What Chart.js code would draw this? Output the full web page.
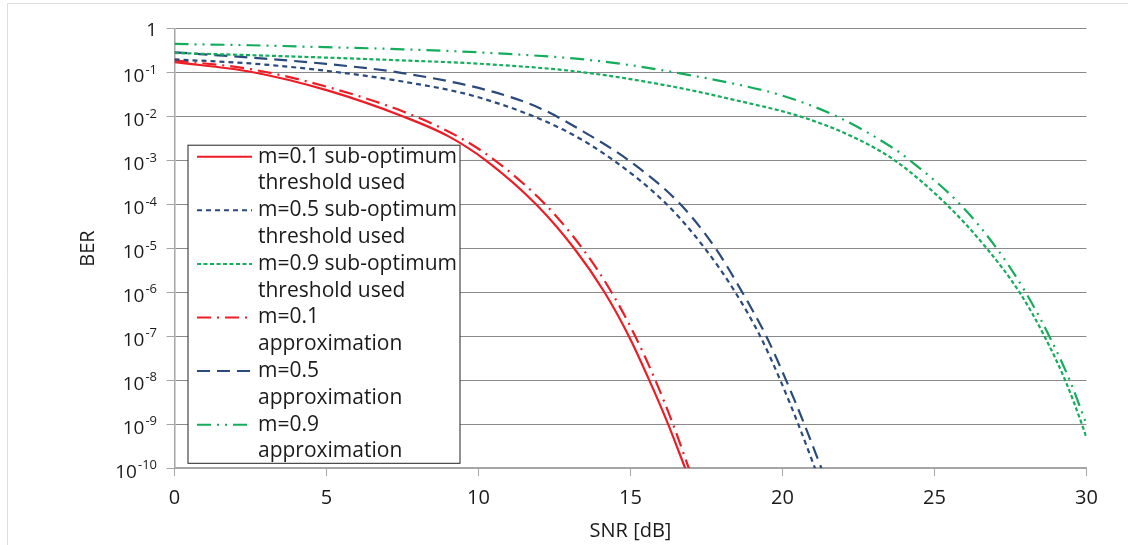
<!DOCTYPE html>
<html>
<head>
<meta charset="utf-8">
<title>BER vs SNR</title>
<script src="https://cdn.jsdelivr.net/npm/chart.js@4.4.1/dist/chart.umd.min.js"></script>
<style>
  html, body { margin: 0; padding: 0; background: #fff; }
  #wrap { position: relative; width: 1128px; height: 545px; }
</style>
</head>
<body>
<div id="wrap"><canvas id="berChart"></canvas></div>
<script>
// m=0.1 / 0.5 / 0.9, sub-optimum threshold used
var snrSub01 = [0, 2.5, 5, 7.5, 9, 10.25, 11.9, 13.15, 14.15, 14.95, 15.62, 16.24, 16.8];
var berSub01 = [0.174, 0.105, 0.04, 0.0102, 3.6e-3, 1e-3, 1e-4, 1e-5, 1e-6, 1e-7, 1e-8, 1e-9, 1e-10];

var snrSub05 = [0, 2.5, 5, 7.5, 10, 12.8, 14.45, 16.2, 17.45, 18.45, 19.27, 19.93, 20.52, 21.07];
var berSub05 = [0.20, 0.162, 0.11, 0.063, 0.0275, 5.0e-3, 1e-3, 1e-4, 1e-5, 1e-6, 1e-7, 1e-8, 1e-9, 1e-10];

var snrSub09 = [0, 2.5, 5, 7.5, 10, 13.3, 16.4, 18.3, 20.6, 22.3, 23.7, 25.4, 26.72, 27.8, 28.62, 29.3, 29.85, 30];
var berSub09 = [0.28, 0.25, 0.22, 0.19, 0.16, 0.105, 0.048, 0.025, 1e-2, 3.5e-3, 1e-3, 1e-4, 1e-5, 1e-6, 1e-7, 1e-8, 1e-9, 5e-10];

// m=0.1 / 0.5 / 0.9, approximation
var snrApp01 = [0, 2.5, 5, 7.5, 9.3, 10.55, 12.2, 13.42, 14.38, 15.16, 15.82, 16.4, 16.92];
var berApp01 = [0.19, 0.12, 0.048, 0.0132, 3.6e-3, 1e-3, 1e-4, 1e-5, 1e-6, 1e-7, 1e-8, 1e-9, 1e-10];

var snrApp05 = [0, 2.5, 5, 7.5, 10.4, 12, 13.35, 14.95, 16.65, 17.8, 18.68, 19.47, 20.12, 20.72, 21.28];
var berApp05 = [0.29, 0.22, 0.158, 0.098, 0.038, 0.0158, 5.0e-3, 1e-3, 1e-4, 1e-5, 1e-6, 1e-7, 1e-8, 1e-9, 1e-10];

var snrApp09 = [0, 2.5, 5, 7.5, 10, 13.3, 15, 16.5, 18.3, 20, 21.8, 23.7, 24.2, 25.85, 27.05, 28.0, 28.78, 29.45, 30];
var berApp09 = [0.45, 0.42, 0.38, 0.34, 0.29, 0.205, 0.148, 0.10, 0.058, 0.03, 1e-2, 1.8e-3, 1e-3, 1e-4, 1e-5, 1e-6, 1e-7, 1e-8, 1e-9];

var legendLines = [
  ['m=0.1 sub-optimum', 'threshold used'],
  ['m=0.5 sub-optimum', 'threshold used'],
  ['m=0.9 sub-optimum', 'threshold used'],
  ['m=0.1', 'approximation'],
  ['m=0.5', 'approximation'],
  ['m=0.9', 'approximation']
];

var yTickValues = [1, 1e-1, 1e-2, 1e-3, 1e-4, 1e-5, 1e-6, 1e-7, 1e-8, 1e-9, 1e-10];
var yTickExp = ['', '-1', '-2', '-3', '-4', '-5', '-6', '-7', '-8', '-9', '-10'];

var RED = '#ee1d25';
var BLUE = '#2b4a7c';
var GREEN = '#14ad5b';
var TEXT = '#1a1a1a';
var FONT = '"Open Sans", sans-serif';

function pts(xs, ys) {
  return xs.map(function (x, i) { return { x: x, y: ys[i] }; });
}

function series(i, xs, ys, color, dash) {
  return {
    label: legendLines[i].join(' '),
    data: pts(xs, ys),
    borderColor: color,
    backgroundColor: color,
    borderDash: dash,
    borderWidth: 2.2,
    pointRadius: 0,
    fill: false,
    cubicInterpolationMode: 'monotone'
  };
}

// light frame round the whole figure
var frame = {
  id: 'frame',
  beforeDraw: function (chart) {
    var c = chart.ctx;
    c.save();
    c.strokeStyle = '#dedede';
    c.lineWidth = 1;
    c.beginPath();
    c.moveTo(7.5, chart.height);
    c.lineTo(7.5, 3.5);
    c.lineTo(chart.width, 3.5);
    c.stroke();
    c.restore();
  }
};

// 10^n tick labels and the two axis titles
var axisText = {
  id: 'axisText',
  afterDraw: function (chart) {
    var c = chart.ctx, y = chart.scales.y, x = chart.scales.x;
    var right = y.right - 17.5;
    c.save();
    c.fillStyle = TEXT;
    c.textAlign = 'right';
    c.textBaseline = 'alphabetic';
    yTickValues.forEach(function (v, i) {
      var py = y.getPixelForValue(v);
      var e = yTickExp[i];
      if (!e) {
        c.font = '19px ' + FONT;
        c.fillText('1', right, py + 7);
        return;
      }
      c.font = '13px ' + FONT;
      c.fillText(e, right, py + 1);
      var w = c.measureText(e).width;
      c.font = '19px ' + FONT;
      c.fillText('10', right - w - 1, py + 9.5);
    });

    c.font = '20px ' + FONT;
    c.textAlign = 'center';
    c.textBaseline = 'middle';
    c.fillText('SNR [dB]', (x.left + x.right) / 2, 531);
    c.translate(88, (y.top + y.bottom) / 2);
    c.rotate(-Math.PI / 2);
    c.fillText('BER', 0, 0);
    c.restore();
  }
};

// boxed legend with two-line entries
var boxLegend = {
  id: 'boxLegend',
  afterDatasetsDraw: function (chart) {
    var c = chart.ctx, a = chart.chartArea;
    var left = a.left + 13.5, top = a.top + 116.5;
    var w = 272, h = a.bottom - 5 - top;
    var step = 26.8;
    c.save();
    c.fillStyle = '#fff';
    c.fillRect(left, top, w, h);
    c.strokeStyle = '#222';
    c.lineWidth = 1;
    c.strokeRect(left, top, w, h);
    c.font = '21px ' + FONT;
    c.fillStyle = TEXT;
    c.textAlign = 'left';
    c.textBaseline = 'middle';
    var row = 0;
    chart.data.datasets.forEach(function (ds, i) {
      var ly = top + 11.5 + row * step;
      c.save();
      c.strokeStyle = ds.borderColor;
      c.lineWidth = 2;
      c.setLineDash(ds.borderDash || []);
      c.beginPath();
      c.moveTo(left + 9, ly);
      c.lineTo(left + 64, ly);
      c.stroke();
      c.restore();
      legendLines[i].forEach(function (t) {
        c.fillText(t, left + 70, top + 11.5 + row * step);
        row++;
      });
    });
    c.restore();
  }
};

Chart.defaults.font.family = FONT;

var ctx = document.getElementById('berChart').getContext('2d');
var berChart = new Chart(ctx, {
  type: 'line',
  data: {
    datasets: [
      series(0, snrSub01, berSub01, RED, []),
      series(1, snrSub05, berSub05, BLUE, [5, 4]),
      series(2, snrSub09, berSub09, GREEN, [4, 2.5]),
      series(3, snrApp01, berApp01, RED, [14, 6, 2, 6]),
      series(4, snrApp05, berApp05, BLUE, [13, 7]),
      series(5, snrApp09, berApp09, GREEN, [14, 6, 2, 6, 2, 6])
    ]
  },
  options: {
    responsive: true,
    maintainAspectRatio: false,
    animation: false,
    events: [],
    layout: { padding: { left: 0, top: 28.7, right: 41.5, bottom: 0 } },
    plugins: {
      legend: { display: false },
      tooltip: { enabled: false }
    },
    scales: {
      x: {
        type: 'linear',
        min: 0,
        max: 30,
        ticks: { stepSize: 5, color: TEXT, font: { size: 20 }, padding: 10 },
        grid: { drawOnChartArea: false, color: '#a6a6a6', tickLength: 8 },
        border: { color: '#a6a6a6', width: 2 },
        afterFit: function (s) { s.height = 76.7; }
      },
      y: {
        type: 'logarithmic',
        min: 1e-10,
        max: 1,
        ticks: { display: false },
        afterBuildTicks: function (s) {
          s.ticks = yTickValues.map(function (v) { return { value: v }; });
        },
        grid: { color: '#8a8a8a', tickColor: '#a6a6a6', tickLength: 8 },
        border: { color: '#a6a6a6', width: 1.5 },
        afterFit: function (s) { s.width = 174.5; }
      }
    }
  },
  plugins: [frame, axisText, boxLegend]
});
</script>
</body>
</html>
